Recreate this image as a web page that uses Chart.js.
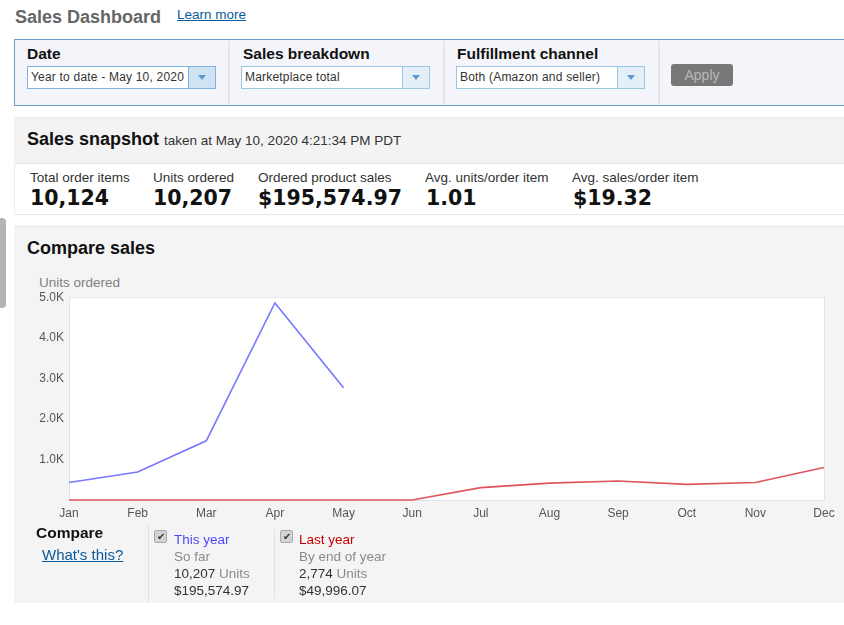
<!DOCTYPE html>
<html>
<head>
<meta charset="utf-8">
<title>Sales Dashboard</title>
<script src="https://cdn.jsdelivr.net/npm/chart.js@4"></script>
<style>
html, body { margin: 0; padding: 0; background: #fff; overflow: hidden; }
body { width: 844px; height: 625px; position: relative; font-family: "Liberation Sans", Arial, sans-serif; color: #111; }
.a { position: absolute; white-space: nowrap; }
.t { position: absolute; white-space: nowrap; line-height: 18px; height: 18px; }
.link { color: #0b5a9c; text-decoration: underline; }
.label { font-size: 15.5px; font-weight: bold; }
.select { position: absolute; top: 66px; width: 187px; height: 21px; background: #fff; border: 1px solid #9cc7e4; font-size: 12px; line-height: 21px; color: #333; letter-spacing: 0.2px; }
.select span { padding-left: 3px; }
.select i { position: absolute; right: 0; top: 0; width: 26px; height: 21px; background: #e3f0fa; border-left: 1px solid #9cc7e4; }
.select i:after { content: ""; position: absolute; left: 9px; top: 8px; border: 4.5px solid transparent; border-top: 5px solid #5b9bd1; border-bottom: 0; }
.sep { position: absolute; background: #e6e6ea; }
.stat { font-size: 13.5px; color: #333; }
.val { font-family: "DejaVu Sans", sans-serif; font-weight: bold; font-size: 20.5px; color: #111; }
.row { font-size: 13.5px; color: #333; }
.grey { color: #8a8a8a; }
.check { position: absolute; width: 11px; height: 11px; background: #d4d4d4; border: 1px solid #aaa; border-radius: 2px; font-size: 10px; line-height: 11px; text-align: center; color: #333; }
#wrap { position: absolute; left: 14px; top: 285px; width: 830px; height: 240px; }
</style>
</head>
<body>
<div class="t" style="left:15px;top:8px;font-size:18px;font-weight:bold;color:#666">Sales Dashboard</div>
<div class="t link" style="left:177px;top:6px;font-size:13.5px">Learn more</div>

<!-- barra de filtros -->
<div class="a" style="left:14px;top:39px;width:840px;height:65px;background:#f3f5fa;border:1px solid #6b9bcf"></div>
<div class="sep" style="left:228px;top:41px;width:2px;height:64px"></div>
<div class="sep" style="left:443px;top:41px;width:2px;height:64px"></div>
<div class="sep" style="left:658px;top:41px;width:2px;height:64px"></div>
<div class="t label" style="left:27px;top:45px">Date</div>
<div class="t label" style="left:243px;top:45px">Sales breakdown</div>
<div class="t label" style="left:457px;top:45px">Fulfillment channel</div>
<div class="select" style="left:27px;border-color:#7fb2dc"><span>Year to date - May 10, 2020</span><i style="background:#cfe3f4;border-color:#7fb2dc"></i></div>
<div class="select" style="left:241px"><span>Marketplace total</span><i></i></div>
<div class="select" style="left:456px"><span>Both (Amazon and seller)</span><i></i></div>
<div class="a" style="left:671px;top:64px;width:62px;height:22px;background:#777;border-radius:3px;color:#b8b8b8;font-size:14px;line-height:22px;text-align:center">Apply</div>

<!-- resumo -->
<div class="a" style="left:14px;top:117px;width:830px;height:45px;background:#f3f3f3;border-top:1px solid #e8e8e8;border-bottom:1px solid #e8e8e8"></div>
<div class="a" style="left:14px;top:214px;width:830px;height:1px;background:#e8e8e8"></div>
<div class="a" style="left:14px;top:163px;width:1px;height:51px;background:#eee"></div>
<div class="t" style="left:27px;top:130px;font-size:18px;font-weight:bold">Sales snapshot <span style="font-size:13.5px;font-weight:normal;color:#333">taken at May 10, 2020 4:21:34 PM PDT</span></div>
<div class="t stat" style="left:30px;top:169px">Total order items</div>
<div class="t stat" style="left:153px;top:169px">Units ordered</div>
<div class="t stat" style="left:258px;top:169px">Ordered product sales</div>
<div class="t stat" style="left:425px;top:169px">Avg. units/order item</div>
<div class="t stat" style="left:572px;top:169px">Avg. sales/order item</div>
<div class="t val" style="left:30px;top:189px">10,124</div>
<div class="t val" style="left:153px;top:189px">10,207</div>
<div class="t val" style="left:258px;top:189px">$195,574.97</div>
<div class="t val" style="left:426px;top:189px">1.01</div>
<div class="t val" style="left:573px;top:189px">$19.32</div>

<!-- aba lateral -->
<div class="a" style="left:0;top:218px;width:6px;height:90px;background:#b4b4b4;border-radius:0 4px 4px 0"></div>

<!-- comparar vendas -->
<div class="a" style="left:14px;top:226px;width:830px;height:376px;background:#f4f4f4;border-top:1px solid #e8e8e8"></div>
<div class="t" style="left:27px;top:239px;font-size:18px;font-weight:bold">Compare sales</div>
<div class="t" style="left:39px;top:274px;font-size:13.5px;color:#808080">Units ordered</div>
<div id="wrap"><canvas id="sales-chart" role="img" aria-label="Units ordered by month, this year and last year"></canvas></div>

<div class="t" style="left:36px;top:524px;font-size:15.5px;font-weight:bold">Compare</div>
<div class="t link" style="left:42px;top:546px;font-size:15px">What's this?</div>
<div class="sep" style="left:148px;top:525px;width:1px;height:77px;background:#e0e0e0"></div>
<div class="sep" style="left:274px;top:530px;width:1px;height:68px;background:#e0e0e0"></div>
<div class="check" style="left:154px;top:530px">✔</div>
<div class="check" style="left:280px;top:530px">✔</div>
<div class="t row" style="left:174px;top:531px;color:#4a4aff">This year</div>
<div class="t row grey" style="left:174px;top:548px">So far</div>
<div class="t row" style="left:174px;top:565px">10,207 <span class="grey">Units</span></div>
<div class="t row" style="left:174px;top:582px">$195,574.97</div>
<div class="t row" style="left:299px;top:531px;color:#c40000">Last year</div>
<div class="t row grey" style="left:299px;top:548px">By end of year</div>
<div class="t row" style="left:299px;top:565px">2,774 <span class="grey">Units</span></div>
<div class="t row" style="left:299px;top:582px">$49,996.07</div>

<script>
// Dados
const months = ['Jan', 'Feb', 'Mar', 'Apr', 'May', 'Jun', 'Jul', 'Aug', 'Sep', 'Oct', 'Nov', 'Dec'];
const thisYear = [430, 690, 1460, 4860, 2767, null, null, null, null, null, null, null];
const lastYear = [0, 0, 0, 0, 0, 0, 305, 415, 470, 385, 430, 800];
const yTickLabels = { 1000: '1.0K', 2000: '2.0K', 3000: '3.0K', 4000: '4.0K', 5000: '5.0K' };

// Fundo branco e borda da área do gráfico
const plotFrame = {
    id: 'plotFrame',
    beforeDatasetsDraw(chart) {
        const { ctx, chartArea: a } = chart;
        ctx.save();
        ctx.fillStyle = '#fff';
        ctx.fillRect(a.left, a.top, a.right - a.left, a.bottom - a.top);
        ctx.strokeStyle = '#dde6ee';
        ctx.lineWidth = 1;
        ctx.strokeRect(a.left + 0.5, a.top + 0.5, a.right - a.left, a.bottom - a.top);
        ctx.restore();
    }
};

new Chart(document.getElementById('sales-chart'), {
    type: 'line',
    plugins: [plotFrame],
    data: {
        labels: months,
        datasets: [
            { label: 'This year', data: thisYear, borderColor: '#7878ff', borderWidth: 1.6, pointRadius: 0, tension: 0, clip: false, spanGaps: false },
            { label: 'Last year', data: lastYear, borderColor: '#e0555c', borderWidth: 1.6, pointRadius: 0, tension: 0, clip: false }
        ]
    },
    options: {
        responsive: true,
        maintainAspectRatio: false,
        animation: false,
        layout: { padding: { top: 7.5, right: 20, left: 0, bottom: 0 } },
        plugins: { legend: { display: false }, tooltip: { enabled: false } },
        scales: {
            x: {
                offset: false,
                grid: { display: false, drawTicks: false },
                border: { display: false },
                afterFit(scale) { scale.height = 25; },
                ticks: { color: '#555', padding: 6, maxRotation: 0, autoSkip: false, font: { family: '"Liberation Sans"', size: 12 } }
            },
            y: {
                min: 0,
                max: 5000,
                grid: { display: false, drawTicks: false },
                border: { display: false },
                afterFit(scale) { scale.width = 55; },
                ticks: {
                    stepSize: 1000,
                    color: '#555',
                    padding: 5,
                    font: { family: '"Liberation Sans"', size: 12 },
                    callback: function(value) { return yTickLabels[value] || ''; }
                }
            }
        }
    }
});
</script>
</body>
</html>
